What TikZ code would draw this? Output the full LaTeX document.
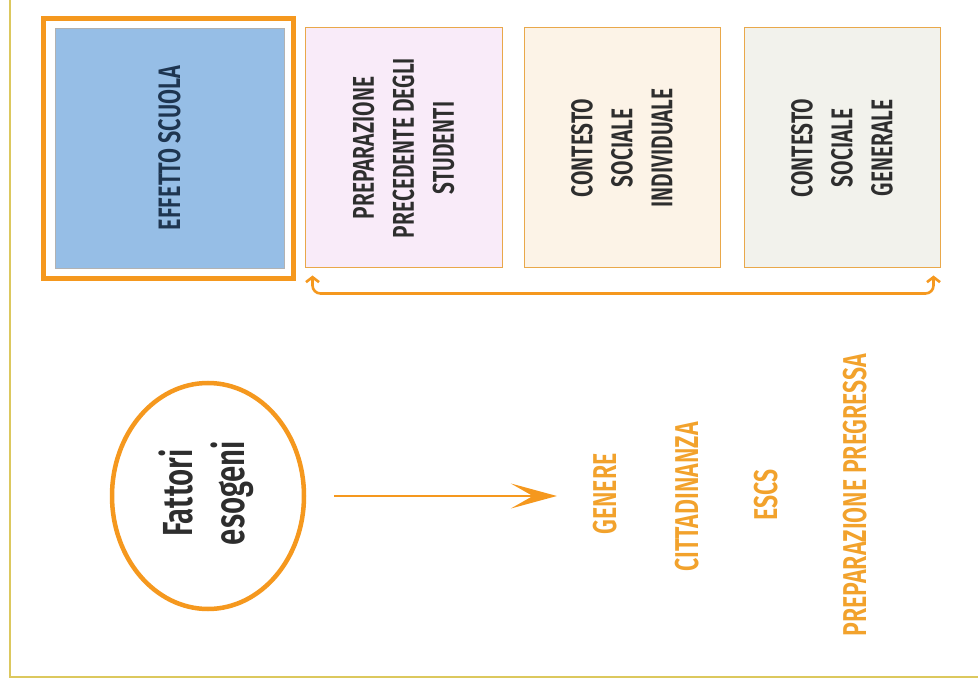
\documentclass[tikz,border=0pt]{standalone}
\usepackage{fontspec}
\usetikzlibrary{shapes.geometric,arrows.meta,calc}
\newfontfamily\condf[FakeStretch=0.7]{Fira Sans SemiBold}
\definecolor{orng}{HTML}{F5981E}
\definecolor{orngtxt}{HTML}{F2A22C}
\definecolor{bluefill}{HTML}{96BEE6}
\definecolor{pinkfill}{HTML}{F9EBF9}
\definecolor{tanfill}{HTML}{FCF3E7}
\definecolor{grayfill}{HTML}{F2F2EC}
\definecolor{boxline}{HTML}{E9A84A}
\definecolor{frameline}{HTML}{DCC85E}
\definecolor{txtdark}{HTML}{2E2E2E}
\definecolor{navy}{HTML}{1E3550}
\tikzset{
  factorbox/.style={draw=boxline, line width=1pt, minimum height=240pt, inner sep=0pt},
  boxtext/.style={rotate=90, align=center, text=txtdark, font=\condf\fontsize{30}{40}\selectfont, inner sep=0pt},
  orangetext/.style={rotate=90, text=orngtxt, font=\condf\fontsize{33}{38}\selectfont, inner sep=2pt},
  bracket/.style={draw=orng, line width=2.6pt, rounded corners=8pt, {Straight Barb[length=5pt,width=13pt]}-{Straight Barb[length=5pt,width=13pt]}},
  bigarrow/.style={draw=orng, line width=2.2pt, -{Stealth[length=46pt,width=25pt,inset=22pt]}}
}
\begin{document}
\begin{tikzpicture}[x=1pt,y=-1pt]
\useasboundingbox (0,0) rectangle (978,687);
\fill[white] (0,0) rectangle (978,687);
% outer frame lines
\draw[frameline, line width=1.6pt] (10,0) -- (10,677) -- (978,677);
% highlighted frame and boxes
\node[draw=orng, line width=5pt, minimum width=250pt, minimum height=260pt, inner sep=0pt] (frame) at (168.5,148.5) {};
\node[fill=bluefill, draw=gray!60, line width=0.8pt, minimum width=229pt, minimum height=240pt, inner sep=0pt] (effetto) at (169.5,148) {};
\node[factorbox, fill=pinkfill, minimum width=197pt] (prep) at (403.5,148) {};
\node[factorbox, fill=tanfill, minimum width=196pt] (csi) at (622,148) {};
\node[factorbox, fill=grayfill, minimum width=196pt] (csg) at (842,148) {};
\node[boxtext, text=navy, font=\condf\fontsize{31}{40}\selectfont] (effettot) at (effetto.center) {EFFETTO SCUOLA};
\node[boxtext] (prept) at (prep.center) {PREPARAZIONE\\PRECEDENTE DEGLI\\STUDENTI};
\node[boxtext] (csit) at (csi.center) {CONTESTO\\SOCIALE\\INDIVIDUALE};
\node[boxtext] (csgt) at (csg.center) {CONTESTO\\SOCIALE\\GENERALE};
% bracket arrow
\draw[bracket] ([shift={(8,7)}]prep.south west) |- ([shift={(-7,25)}]csg.south east) -- ([shift={(-7,7)}]csg.south east);
% ellipse
\node[ellipse, draw=orng, line width=4.5pt, minimum width=192pt, minimum height=226pt, inner sep=0pt] (ell) at (208,496) {};
\node[rotate=90, align=center, text=txtdark, font=\condf\fontsize{42}{52}\selectfont, inner sep=0pt] (ellt) at (206,493) {Fattori\\esogeni};
% orange texts
\node[orangetext] (genere) at (605,494) {GENERE};
\node[orangetext] (citt) at (687,497) {CITTADINANZA};
\node[orangetext] (escs) at (766,495) {ESCS};
\node[orangetext] (prepp) at (855,495) {PREPARAZIONE PREGRESSA};
% arrow
\draw[bigarrow, shorten <=28pt, shorten >=34pt] (ell.east) -- (ell.east -| genere.north);
\end{tikzpicture}
\end{document}
